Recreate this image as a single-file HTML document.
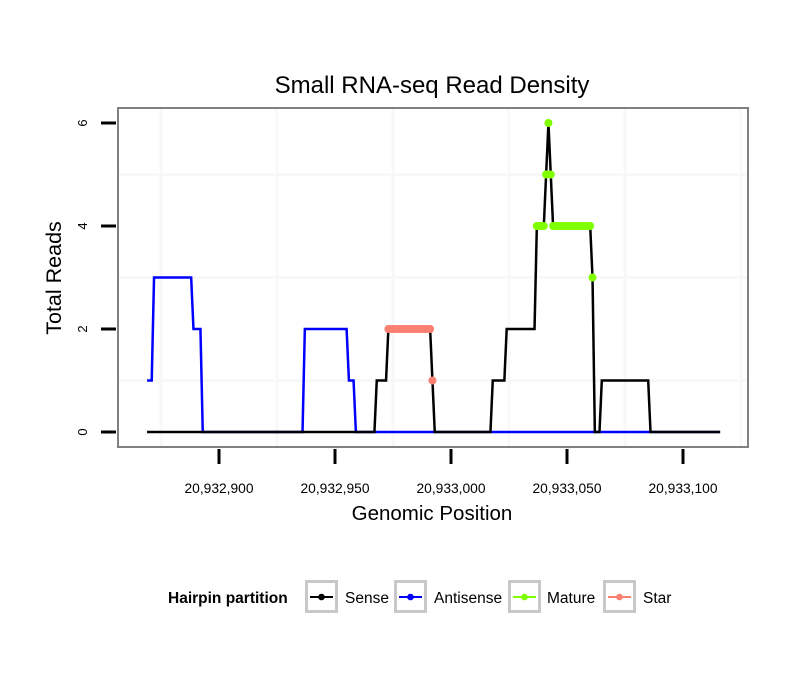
<!DOCTYPE html>
<html><head><meta charset="utf-8"><style>
body{margin:0;background:#fff;}
svg{display:block;font-family:"Liberation Sans",sans-serif;}
</style></head><body>
<svg id="chart" width="810" height="690">
<text x="432" y="93" text-anchor="middle" font-size="24">Small RNA-seq Read Density</text>
<g id="grid"></g>
<g id="series"></g>
<rect x="118" y="108" width="630" height="339" fill="none" stroke="#808080" stroke-width="2"/>
<g id="axes"></g>
<text x="432" y="520" text-anchor="middle" font-size="20.5">Genomic Position</text>
<text transform="translate(61,278) rotate(-90)" text-anchor="middle" font-size="21.5">Total Reads</text>
<g>
<text x="168" y="603" font-size="15.5" font-weight="bold">Hairpin partition</text>
<g>
<rect x="306.5" y="581.5" width="30" height="30" fill="#fff" stroke="#c8c8c8" stroke-width="3"/>
<line x1="310" y1="597" x2="333" y2="597" stroke="#000" stroke-width="2"/><circle cx="321.5" cy="597" r="3.3" fill="#000"/>
<text x="345" y="603" font-size="15.5">Sense</text></g>
<g>
<rect x="395.5" y="581.5" width="30" height="30" fill="#fff" stroke="#c8c8c8" stroke-width="3"/>
<line x1="399" y1="597" x2="422" y2="597" stroke="#0000ff" stroke-width="2"/><circle cx="410.5" cy="597" r="3.3" fill="#0000ff"/>
<text x="434" y="603" font-size="15.5">Antisense</text></g>
<g>
<rect x="509.5" y="581.5" width="30" height="30" fill="#fff" stroke="#c8c8c8" stroke-width="3"/>
<line x1="513" y1="597" x2="536" y2="597" stroke="#7fff00" stroke-width="2"/><circle cx="524.5" cy="597" r="3.3" fill="#7fff00"/>
<text x="547" y="603" font-size="15.5">Mature</text></g>
<g>
<rect x="604.5" y="581.5" width="30" height="30" fill="#fff" stroke="#c8c8c8" stroke-width="3"/>
<line x1="608" y1="597" x2="631" y2="597" stroke="#fa8072" stroke-width="2"/><circle cx="619.5" cy="597" r="3.3" fill="#fa8072"/>
<text x="643" y="603" font-size="15.5">Star</text></g>
</g>
</svg>
<script>
// data: offsets relative to 20,932,900 with read counts (run-length segments: [startOffset, endOffset, value])
const startPos = 20932869;
const endPos = 20933116;
const senseRuns = [[-31,67,0],[68,72,1],[73,91,2],[92,92,1],[93,117,0],[118,123,1],[124,136,2],[137,140,4],[141,141,5],[142,142,6],[143,143,5],[144,160,4],[161,161,3],[162,164,0],[165,185,1],[186,216,0]];
const antisenseRuns = [[-31,-29,1],[-28,-12,3],[-11,-8,2],[-7,36,0],[37,55,2],[56,58,1],[59,216,0]];
const matureRange = [137, 161];
const starRange = [73, 92];
const xTicks = [20932900, 20932950, 20933000, 20933050, 20933100];
const xTickLabels = ["20,932,900", "20,932,950", "20,933,000", "20,933,050", "20,933,100"];
const yTicks = [0, 2, 4, 6];
const xGrid = [20932875, 20932925, 20932975, 20933025, 20933075, 20933125];
const yGrid = [1, 3, 5];

const NS = "http://www.w3.org/2000/svg";
function xs(p){ return 219 + (p - 20932900) * 2.32; }
function ys(v){ return 432 - v * 51.5; }
function mk(tag, attrs, parent){ const e = document.createElementNS(NS, tag); for (const k in attrs) e.setAttribute(k, attrs[k]); parent.appendChild(e); return e; }
function expand(runs){ const out = []; runs.forEach(r => { for (let o = r[0]; o <= r[1]; o++) out.push([20932900 + o, r[2]]); }); return out; }

const grid = document.getElementById('grid');
xGrid.forEach(g => { const l = mk('line', {x1: xs(g), x2: xs(g), y1: 109, y2: 446, stroke: '#f8f8f8', 'stroke-width': 3}, grid);
  
   });
yGrid.forEach(g => { const l = mk('line', {x1: 119, x2: 747, y1: ys(g), y2: ys(g), stroke: '#f8f8f8', 'stroke-width': 3}, grid);
  
   });

const series = document.getElementById('series');
const sense = expand(senseRuns);
const anti = expand(antisenseRuns);
const aPath = mk('polyline', {points: anti.map(d => xs(d[0]) + ',' + ys(d[1])).join(' '), fill: 'none', stroke: '#0000ff', 'stroke-width': 2.5}, series);


const sPath = mk('polyline', {points: sense.map(d => xs(d[0]) + ',' + ys(d[1])).join(' '), fill: 'none', stroke: '#000', 'stroke-width': 2.5}, series);


sense.forEach(d => {
  const o = d[0] - 20932900;
  let col = null, nm = null;
  if (o >= matureRange[0] && o <= matureRange[1]) { col = '#7fff00'; nm = 'mature-point'; }
  else if (o >= starRange[0] && o <= starRange[1]) { col = '#fa8072'; nm = 'star-point'; }
  if (col) { const c = mk('circle', {cx: xs(d[0]), cy: ys(d[1]), r: 4, fill: col}, series);
    
     }
});

const axes = document.getElementById('axes');
xTicks.forEach((t, i) => {
  const l = mk('line', {x1: xs(t), x2: xs(t), y1: 449, y2: 464, stroke: '#000', 'stroke-width': 3}, axes);
  
  
  const tx = mk('text', {x: xs(t), y: 493, 'text-anchor': 'middle', 'font-size': 13.8}, axes);
  tx.textContent = xTickLabels[i];
  
  
});
yTicks.forEach(t => {
  const l = mk('line', {x1: 101, x2: 116, y1: ys(t), y2: ys(t), stroke: '#000', 'stroke-width': 3}, axes);
  
  
  const tx = mk('text', {transform: 'translate(87,' + ys(t) + ') rotate(-90)', 'text-anchor': 'middle', 'font-size': 13}, axes);
  tx.textContent = String(t);
  
  
});
</script>
</body></html>
